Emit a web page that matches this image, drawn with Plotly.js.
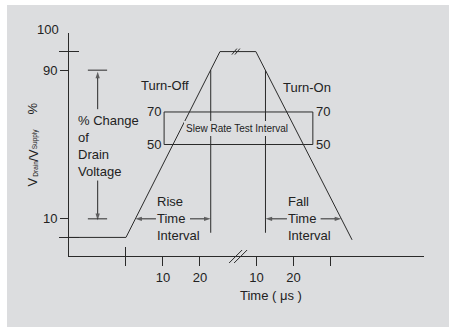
<!DOCTYPE html>
<html><head><meta charset="utf-8">
<script src="https://cdn.plot.ly/plotly-3.0.1.min.js"></script>
<style>html,body{margin:0;padding:0;background:#fff;} #chart{position:absolute;left:7px;top:5px;width:442px;height:322px;}</style>
</head><body><div id="chart"></div>
<script>
// ---------------- data ----------------
const BREAK_SHIFT = 25.3;            // display offset of the time segment after the axis break
const xTickTimes1 = [10, 20];
const xTickLabels1 = ['10', '20'];
const xTickTimes2 = [10, 20];
const xTickLabels2 = ['10', '20'];
const xPlainTicks = [0, 30 + BREAK_SHIFT];   // unlabelled ticks (t = 0 and t = 30 after the break)
const xCrossTicks = [0];
const yTickVals = [10, 90];
const yTickLabels = ['10', '90'];
const yPlainTicks = [0, 100];
const yCrossTicks = [0, 100];

// waveform: drain voltage (% of supply) against display time
const waveX = [-15.4, 0, 25.4, 35.1, 61.1];
const waveY = [0, 0, 100, 100, -1.3];

// 90 % / 10 % crossing times (display units)
const riseT90 = 22.9, fallT90 = 37.7;
const riseT10 = 2.5, fallT10 = 58.2;
const markerTop = 90, markerBottom = 2.5;

// interval arrows at the 10 % level: tails (near the "Time" words) and tips
const intervalTails = [8.1, 17.3, 43.5, 52.6];
const intervalTips = [riseT10, riseT90, fallT90, fallT10];
const intervalLevel = 10;

// slew-rate test window
const slewX = [10.3, 50.5];
const slewY = [50, 67.5];
const slewLabels = ['50', '70'];

// % change of drain voltage markers
const changeX = [-10.3, -5.1];
const changeLevels = [10, 90];
const changeArrowX = -7.65;
const changeArrowTails = [30.6, 69];
const changeArrowTips = [9.3, 89.2];

// y-axis title pieces (read bottom to top) and where they sit along the axis
const yTitleParts = ['V', 'Drain', '/V', 'Supply', '%'];
const yTitleIsSub = [false, true, false, true, false];
const yTitlePos = [29.8, 36.8, 44.35, 53.2, 69.1];

// axis-break marks
const breakMarkX = 30.3, topBreakX = 29.7;

// ---------------- drawing ----------------
const ink = '#2a2a2a';
const txt = '#222222';
const bg = '#dcdddf';
const F = 'Liberation Sans, Arial, sans-serif';

const xTickVals = xTickTimes1.concat(xTickTimes2.map(t => t + BREAK_SHIFT));
const xTickText = xTickLabels1.concat(xTickLabels2);
const xRange = [-15.4, 80.54];
const yRange = [-10, 110];

// arrows as line traces whose last point carries an arrow-head marker
const arrX = [], arrY = [], arrS = [];
intervalTails.forEach((t, i) => {
  arrX.push(t, intervalTips[i], null); arrY.push(intervalLevel, intervalLevel, null); arrS.push(0, 7, 0);
});
changeArrowTails.forEach((t, i) => {
  arrX.push(changeArrowX, changeArrowX, null); arrY.push(t, changeArrowTips[i], null); arrS.push(0, 7, 0);
});

const traces = [
  {x: waveX, y: waveY, mode: 'lines', line: {color: ink, width: 1}, hoverinfo: 'skip'},
  {x: [riseT90, riseT90, null, fallT90, fallT90], y: [markerTop, markerBottom, null, markerTop, markerBottom],
   mode: 'lines', line: {color: ink, width: 1}, hoverinfo: 'skip'},
  {x: [slewX[0], slewX[1], slewX[1], slewX[0], slewX[0]], y: [slewY[0], slewY[0], slewY[1], slewY[1], slewY[0]],
   mode: 'lines', line: {color: ink, width: 1}, hoverinfo: 'skip'},
  {x: [changeX[0], changeX[1], null, changeX[0], changeX[1]],
   y: [changeLevels[0], changeLevels[0], null, changeLevels[1], changeLevels[1]],
   mode: 'lines', line: {color: ink, width: 1}, hoverinfo: 'skip'},
  {x: arrX, y: arrY, mode: 'lines+markers', line: {color: ink, width: 1}, connectgaps: false,
   marker: {symbol: 'arrow', size: arrS, angleref: 'previous', color: ink, line: {width: 0}}, hoverinfo: 'skip'},
  {x: [], y: [], xaxis: 'x2', yaxis: 'y2', hoverinfo: 'skip'},
  {x: [], y: [], xaxis: 'x3', yaxis: 'y3', hoverinfo: 'skip'}
];

const ann = [];
const t13 = {family: F, size: 13, color: txt};
function label(text, x, y, extra) {
  return Object.assign({text, x, y, showarrow: false, font: t13, xanchor: 'left', yanchor: 'middle',
    align: 'left', borderpad: 0, borderwidth: 0}, extra || {});
}
ann.push(label('% Change<br>of<br>Drain<br>Voltage', -13.05, 49.1));
ann.push(label('Turn-Off', 4.05, 81.8));
ann.push(label('Turn-On', 42.4, 80.6));
ann.push(label('Rise<br>Time<br>Interval', 8.4, 10));
ann.push(label('Fall<br>Time<br>Interval', 43.8, 10));
ann.push(label('Slew Rate Test Interval', (slewX[0] + slewX[1]) / 2 - 0.3, 58.6,
  {xanchor: 'center', font: {family: F, size: 10, color: txt}, bgcolor: bg, borderpad: 2}));
slewY.forEach((v, i) => {
  ann.push(label(slewLabels[i], slewX[0], v, {xanchor: 'right', xshift: -3}));
  ann.push(label(slewLabels[i], slewX[1], v, {xanchor: 'left', xshift: 3}));
});
ann.push(label('100', 0, 1, {xref: 'paper', yref: 'paper', xanchor: 'right', xshift: -10, yshift: 4}));
yTitleParts.forEach((p, i) => {
  const sub = yTitleIsSub[i];
  ann.push(label(p, 0, yTitlePos[i], {xref: 'paper', xanchor: 'center', textangle: -90,
    xshift: sub ? -34.3 : -36.5, font: {family: F, size: sub ? 6.5 : 13, color: txt}}));
});
ann.push(label('Time ( μs )', 39.2, 0, {yref: 'paper', xanchor: 'center', yshift: -39.7}));

const shapes = [];
[-2.5, 2.5].forEach(d => {
  shapes.push({type: 'line', xref: 'x', yref: 'paper', xsizemode: 'pixel', ysizemode: 'pixel',
    xanchor: breakMarkX, yanchor: 0, x0: d - 6.5, x1: d + 6.5, y0: -7, y1: 6, line: {color: ink, width: 1}});
});
[-1.5, 1.5].forEach(d => {
  shapes.push({type: 'line', xref: 'x', yref: 'y', xsizemode: 'pixel', ysizemode: 'pixel',
    xanchor: topBreakX, yanchor: 100, x0: d - 2.5, x1: d + 2.5, y0: -3, y1: 3, line: {color: ink, width: 1}});
});

const axisCommon = {showgrid: false, zeroline: false, showline: false, fixedrange: true,
  tickcolor: ink, tickwidth: 1, tickmode: 'array'};
const layout = {
  width: 442, height: 322,
  margin: {l: 62, r: 25, t: 28, b: 71, pad: 0},
  paper_bgcolor: bg, plot_bgcolor: bg,
  showlegend: false,
  font: {family: F, color: txt},
  xaxis: Object.assign({}, axisCommon, {range: xRange, showline: true, linecolor: ink, linewidth: 1,
    ticks: 'outside', ticklen: 9, tickvals: xTickVals, ticktext: xTickText,
    tickfont: {family: F, size: 13, color: txt}}),
  yaxis: Object.assign({}, axisCommon, {range: yRange, showline: true, linecolor: ink, linewidth: 1,
    ticks: 'outside', ticklen: 8, tickvals: yTickVals, ticktext: yTickLabels,
    tickfont: {family: F, size: 13, color: txt}}),
  xaxis2: Object.assign({}, axisCommon, {range: xRange, overlaying: 'x', anchor: 'y2', side: 'bottom',
    ticks: 'outside', ticklen: 9, tickvals: xPlainTicks, showticklabels: false}),
  yaxis2: Object.assign({}, axisCommon, {range: yRange, overlaying: 'y', anchor: 'x2', side: 'left',
    ticks: 'outside', ticklen: 9, tickvals: yPlainTicks, showticklabels: false}),
  xaxis3: Object.assign({}, axisCommon, {range: xRange, overlaying: 'x', anchor: 'y3', side: 'bottom',
    ticks: 'inside', ticklen: 9, tickvals: xCrossTicks, showticklabels: false}),
  yaxis3: Object.assign({}, axisCommon, {range: yRange, overlaying: 'y', anchor: 'x3', side: 'left',
    ticks: 'inside', ticklen: 10, tickvals: yCrossTicks, showticklabels: false}),
  annotations: ann,
  shapes: shapes
};
Plotly.newPlot('chart', traces, layout, {staticPlot: true, displayModeBar: false});
</script></body></html>
